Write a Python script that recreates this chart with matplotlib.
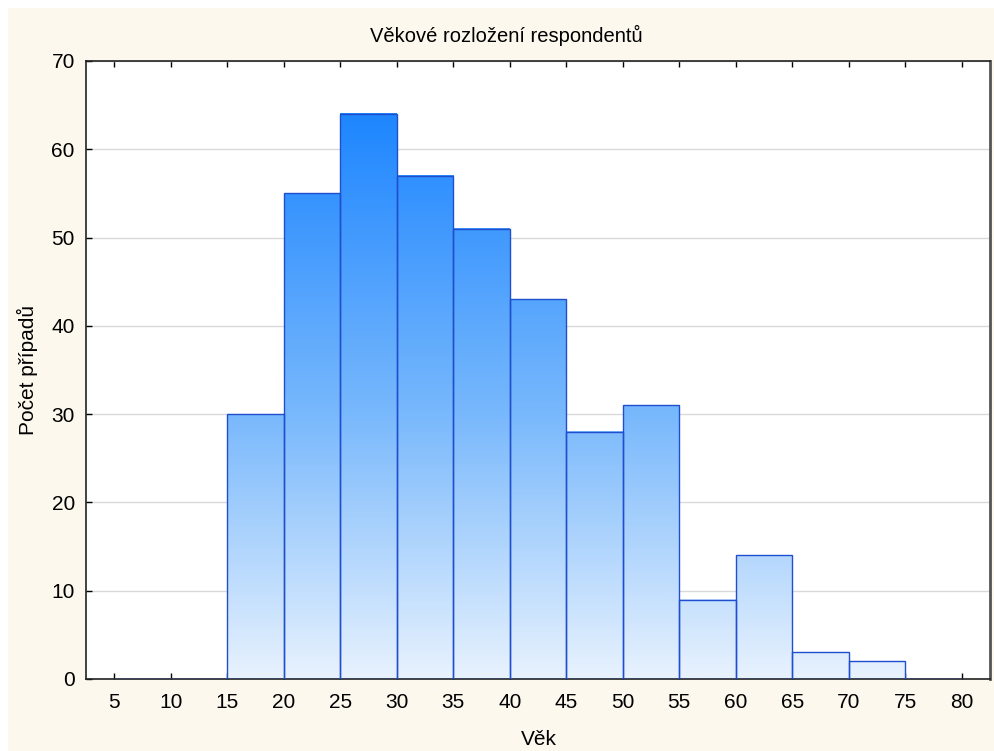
import matplotlib
matplotlib.use("Agg")

import matplotlib.pyplot as plt
import numpy as np
from matplotlib.colors import LinearSegmentedColormap, Normalize

plt.rcParams["font.family"] = ["Liberation Sans", "DejaVu Sans"]

# histogram data: age bins (left edges) and counts
bin_left = [5, 10, 15, 20, 25, 30, 35, 40, 45, 50, 55, 60, 65, 70, 75]
counts = [0, 0, 30, 55, 64, 57, 51, 43, 28, 31, 9, 14, 3, 2, 0]
bin_width = 5
x_ticks = list(range(5, 81, 5))
y_ticks = list(range(0, 71, 10))

title = "Věkové rozložení respondentů"
x_label = "Věk"
y_label = "Počet případů"

fig = plt.figure(figsize=(9.95, 7.51), dpi=100)
fig.patch.set_facecolor("#fdf8ee")
ax = fig.add_axes([0.0864, 0.0959, 0.9086, 0.8229])
ax.set_facecolor("white")

ax.yaxis.grid(True, color="#d9d9d9", linewidth=1)
ax.set_axisbelow(True)

cmap = LinearSegmentedColormap.from_list(
    "blues", [(0, "#e8f2fe"), (0.47, "#78b8fc"), (1, "#1e86ff")])
norm = Normalize(0, max(counts))
grad = np.linspace(0, 1, 256).reshape(-1, 1)

bars = ax.bar(bin_left, counts, width=bin_width, align="edge",
              facecolor="none", edgecolor="#1f4fcf", linewidth=1, zorder=3)
for b, h in zip(bars, counts):
    if h <= 0:
        continue
    x0 = b.get_x()
    ax.imshow(grad * h, cmap=cmap, norm=norm, origin="lower",
              extent=[x0, x0 + bin_width, 0, h], aspect="auto",
              interpolation="bilinear", zorder=2)
ax.set_xlim(2.5, 82.5)
ax.set_ylim(0, 70)

ax.set_xticks(x_ticks)
ax.set_yticks(y_ticks)
ax.tick_params(direction="in", length=4, width=1, labelsize=15,
               top=True, right=False)
ax.tick_params(axis="x", pad=10)
ax.tick_params(axis="y", pad=8)
for s in ["left", "bottom", "top"]:
    ax.spines[s].set_color("#222222")
    ax.spines[s].set_linewidth(1.2)
ax.spines["right"].set_color("#555555")
ax.spines["right"].set_linewidth(2)

fig.text(506 / 995, 1 - 42 / 751, title, fontsize=14.5, ha="center", va="baseline")
fig.text(539 / 995, 6 / 751, x_label, fontsize=15, ha="center", va="baseline")
fig.text(27 / 995, 0.5 - 0.5 * (61 + 679 - 751) / 751, y_label, fontsize=15,
         rotation=90, ha="center", va="center")

# thin white border on top and left as in the original export
fig.patches.append(plt.Rectangle((0, 0.99), 1, 0.01, transform=fig.transFigure,
                                 facecolor="white", edgecolor="none"))
fig.patches.append(plt.Rectangle((0, 0), 0.008, 1, transform=fig.transFigure,
                                 facecolor="white", edgecolor="none"))

fig.savefig("out.png", dpi=100, facecolor=fig.get_facecolor())
plt.close(fig)
